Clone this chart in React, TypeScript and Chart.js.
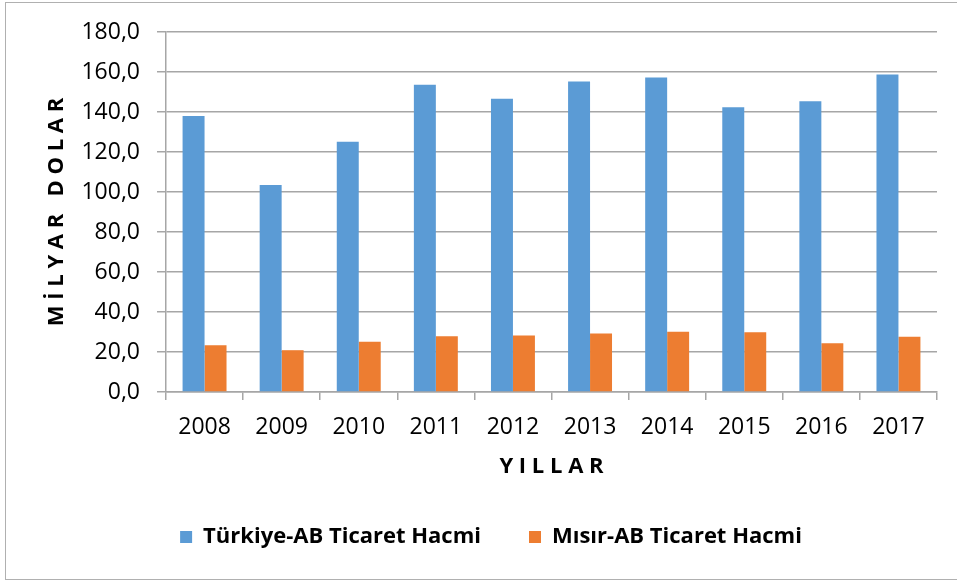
import React, { useEffect, useRef } from 'react';
import { Chart, registerables } from 'chart.js';

Chart.register(...registerables);

const years = ['2008', '2009', '2010', '2011', '2012', '2013', '2014', '2015', '2016', '2017'];
const turkiyeAB = [138.0, 103.5, 125.1, 153.6, 146.6, 155.3, 157.2, 142.4, 145.4, 158.8];
const misirAB = [23.4, 20.9, 25.1, 27.9, 28.3, 29.3, 30.1, 29.9, 24.4, 27.6];
const seriesNames = ['Türkiye-AB Ticaret Hacmi', 'Mısır-AB Ticaret Hacmi'];
const yTitle = 'M İ L Y A R   D O L A R';
const xTitle = 'Y I L L A R';
const yMin = 0;
const yMax = 180;
const yStep = 20;

const FONT = '"Open Sans", "DejaVu Sans", sans-serif';
const GRID = '#a6a6a6';

export default function App() {
  const ref = useRef<HTMLCanvasElement | null>(null);

  useEffect(() => {
    if (!ref.current) return;
    const chart = new Chart(ref.current, {
      type: 'bar',
      data: {
        labels: years,
        datasets: [
          { label: seriesNames[0], data: turkiyeAB, backgroundColor: '#5B9BD5', borderWidth: 0 },
          { label: seriesNames[1], data: misirAB, backgroundColor: '#ED7D31', borderWidth: 0 },
        ],
      },
      options: {
        responsive: false,
        animation: false,
        layout: { padding: { left: 45, right: 20, top: 32, bottom: 23 } },
        datasets: { bar: { categoryPercentage: 0.57, barPercentage: 1 } },
        plugins: {
          tooltip: { enabled: false },
          legend: {
            position: 'bottom',
            labels: {
              boxWidth: 12,
              boxHeight: 12,
              padding: 48,
              color: '#000',
              font: { family: FONT, size: 22, weight: 'bold' },
            },
          },
        },
        scales: {
          x: {
            afterFit: (s: any) => { s.height = 86; },
            grid: { drawOnChartArea: false, drawTicks: true, tickLength: 8, color: GRID, lineWidth: 1.5 },
            border: { color: GRID, width: 1.5 },
            ticks: { color: '#000', padding: 14, font: { family: FONT, size: 23 } },
            title: {
              display: true,
              text: xTitle,
              color: '#000',
              padding: { top: 0, bottom: 0 },
              font: { family: FONT, size: 22, weight: 'bold', lineHeight: 1.0 },
            },
          },
          y: {
            min: yMin,
            max: yMax,
            afterFit: (s: any) => { s.width = 121; },
            grid: { color: GRID, lineWidth: 1.5, tickLength: 9 },
            border: { color: GRID, width: 1.5 },
            ticks: {
              stepSize: yStep,
              color: '#000',
              padding: 17,
              font: { family: FONT, size: 23 },
              callback: (v: any) => Number(v).toFixed(1).replace('.', ','),
            },
            title: {
              display: true,
              text: yTitle,
              color: '#000',
              padding: { top: 1, bottom: 0 },
              font: { family: FONT, size: 22, weight: 'bold', lineHeight: 1.0 },
            },
          },
        },
      },
    });
    return () => chart.destroy();
  }, []);

  return (
    <div style={{ position: 'absolute', left: 0, top: 0, width: 957, height: 581, overflow: 'hidden', background: '#fff' }}>
      <div style={{ position: 'absolute', left: 5, top: 2, width: 1000, height: 576, border: '1.5px solid #b0b0b0' }} />
      <canvas ref={ref} width={957} height={581} style={{ position: 'absolute', left: 0, top: 0, display: 'block' }} />
    </div>
  );
}
